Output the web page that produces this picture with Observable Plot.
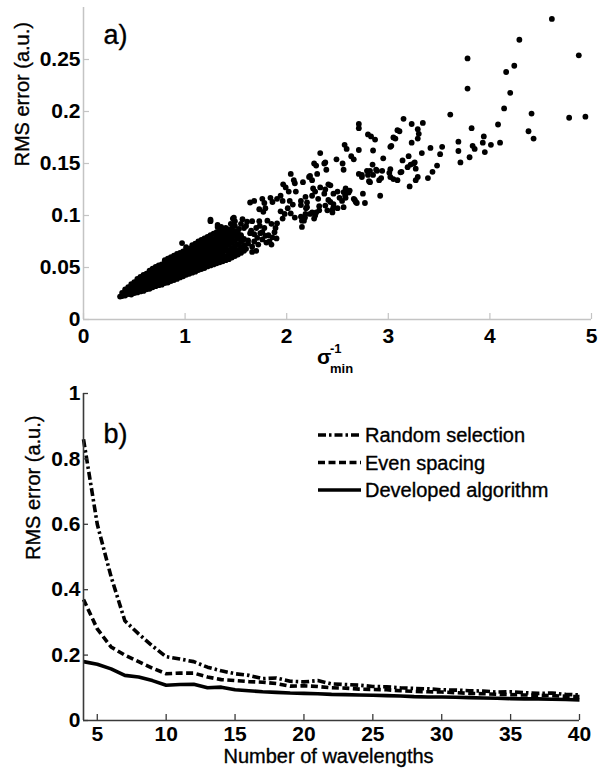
<!DOCTYPE html>
<html><head><meta charset="utf-8">
<script src="https://cdn.jsdelivr.net/npm/d3@7"></script>
<script src="https://cdn.jsdelivr.net/npm/@observablehq/plot@0.6"></script>
<style>
body{margin:0;background:#fff;}
#chart svg{display:block;}
</style></head><body><div id="chart"></div>
<script>
// ---------- Panel a data (sigma_min^-1 vs RMS error) ----------
const denseColumns = [
  [0.36,[0.022]],
  [0.38,[0.0225,0.0255]],
  [0.41,[0.023,0.026,0.029]],
  [0.44,[0.0245,0.0275,0.031]],
  [0.47,[0.024,0.028,0.031,0.034]],
  [0.50,[0.0255,0.029,0.0325,0.036]],
  [0.53,[0.026,0.03,0.033,0.037,0.039]],
  [0.56,[0.027,0.031,0.0345,0.038,0.041]],
  [0.59,[0.0275,0.0315,0.035,0.039,0.043]],
  [0.62,[0.029,0.0325,0.036,0.04,0.044]],
  [0.65,[0.0295,0.033,0.037,0.041,0.045,0.047]],
  [0.68,[0.031,0.0345,0.038,0.042,0.046,0.049]],
  [0.71,[0.032,0.035,0.039,0.043,0.047,0.0505]],
  [0.74,[0.033,0.0365,0.0405,0.0445,0.048,0.052]],
  [0.77,[0.0335,0.037,0.041,0.045,0.049,0.053]],
  [0.80,[0.035,0.0385,0.0425,0.0465,0.0505,0.0545,0.057]],
  [0.83,[0.0355,0.039,0.043,0.047,0.051,0.055,0.0585]],
  [0.86,[0.037,0.0405,0.0445,0.0485,0.0525,0.0565,0.06]],
  [0.89,[0.038,0.0415,0.0455,0.0495,0.0535,0.0575,0.0615]],
  [0.92,[0.039,0.043,0.047,0.051,0.055,0.059,0.063]],
  [0.95,[0.0405,0.044,0.048,0.052,0.056,0.06,0.064]],
  [0.98,[0.0415,0.0455,0.0495,0.0535,0.0575,0.0615,0.0655]],
  [1.01,[0.043,0.047,0.051,0.055,0.059,0.063,0.067,0.0695]],
  [1.04,[0.044,0.048,0.052,0.056,0.06,0.064,0.068]],
  [1.07,[0.045,0.049,0.053,0.057,0.061,0.065,0.069,0.0715]],
  [1.10,[0.046,0.05,0.054,0.058,0.062,0.066,0.07,0.073]],
  [1.13,[0.0475,0.0515,0.0555,0.0595,0.0635,0.0675,0.0715,0.075]],
  [1.16,[0.0485,0.0525,0.0565,0.0605,0.0645,0.0685,0.0725,0.0765]],
  [1.19,[0.0495,0.0535,0.0575,0.0615,0.0655,0.0695,0.0735,0.078]],
  [1.22,[0.051,0.055,0.059,0.063,0.067,0.071,0.075,0.0795]],
  [1.25,[0.052,0.056,0.06,0.064,0.068,0.072,0.076,0.081]],
  [1.28,[0.053,0.057,0.061,0.065,0.069,0.073,0.0775,0.0825]],
  [1.31,[0.054,0.058,0.062,0.066,0.07,0.074,0.079,0.084]],
  [1.34,[0.055,0.059,0.063,0.0675,0.072,0.076,0.0805,0.085]],
  [1.37,[0.056,0.06,0.0645,0.069,0.0735,0.078,0.0825]],
  [1.40,[0.057,0.061,0.066,0.0705,0.075,0.0795,0.084,0.088]],
  [1.43,[0.058,0.0625,0.067,0.072,0.0765,0.081,0.086]],
  [1.46,[0.0595,0.064,0.0685,0.0735,0.078,0.083,0.0875]],
  [1.49,[0.061,0.0655,0.0705,0.0755,0.0805,0.085,0.09]],
  [1.52,[0.0625,0.067,0.0725,0.078,0.083]],
  [1.55,[0.064,0.069,0.0745,0.081]],
  [1.58,[0.066,0.0715,0.0775]]
];
const midPoints = [
  [1.52,0.072],[1.55,0.080],[1.58,0.088],[1.60,0.068],[1.62,0.076],[1.64,0.083],[1.66,0.070],[1.68,0.075],
  [1.70,0.088],[1.72,0.072],[1.74,0.083],[1.76,0.077],[1.78,0.088],[1.80,0.074],[1.82,0.081],[1.86,0.079],
  [1.88,0.084],[1.90,0.078],[1.55,0.092],[1.60,0.090],[1.66,0.065],[1.70,0.066],
  [0.97,0.0735],[1.25,0.0945],[1.32,0.089],[1.38,0.0855],[1.48,0.098],
  [2.33,0.160],[2.49,0.154],[2.38,0.151],[2.39,0.144],[2.29,0.148],[2.30,0.140],[2.04,0.140],[2.23,0.138],
  [2.07,0.134],[2.08,0.131],[2.16,0.132],[1.965,0.130],[1.99,0.127],[2.41,0.130],[2.02,0.123],[2.09,0.123],
  [2.26,0.126],[2.28,0.123],[2.38,0.125],[2.50,0.123],[2.59,0.123],[2.52,0.117],[2.58,0.117],[1.905,0.116],
  [1.94,0.119],[1.96,0.114],[1.84,0.117],[1.86,0.113],[1.76,0.116],[1.78,0.112],[1.68,0.114],[1.64,0.1125],
  [2.03,0.114],[2.06,0.1105],[2.01,0.107],[2.14,0.110],[2.19,0.107],[2.20,0.1125],[2.25,0.119],[2.31,0.116],
  [2.32,0.109],[2.41,0.115],[2.46,0.111],[2.50,0.107],[2.45,0.1055],[1.73,0.106],[1.79,0.107],[1.77,0.1035],
  [1.94,0.104],[1.98,0.1015],[1.96,0.097],[2.04,0.102],[2.08,0.098],[2.14,0.099],[2.17,0.095],[2.18,0.098],
  [2.23,0.1015],[2.29,0.103],[1.25,0.096],[1.47,0.097],[1.49,0.0945],[1.565,0.0965],[1.61,0.094],[1.66,0.0945],
  [1.73,0.0945],[1.735,0.090],[1.81,0.095],[1.85,0.092],[1.89,0.088],[1.905,0.0925],[1.32,0.091],[1.355,0.089],
  [1.41,0.087],[1.35,0.083],[1.45,0.092],[1.53,0.087],[1.65,0.0855],[1.68,0.082],[1.71,0.0785],[1.76,0.084],
  [1.79,0.0805],[1.83,0.075],[1.85,0.072],[1.57,0.0765],[1.62,0.073],[1.58,0.0695],
  [2.14,0.114],[2.15,0.089],[2.27,0.150],[2.37,0.150],[2.22,0.137],[2.25,0.134],[2.43,0.129],[2.33,0.127],
  [2.185,0.118],[2.37,0.121],[2.46,0.121],[2.56,0.1225],[2.545,0.114],[2.20,0.108],[2.25,0.103],[2.28,0.100],
  [2.32,0.105],[2.27,0.097],[2.185,0.1015],[2.15,0.095],[2.38,0.1095],[2.43,0.113],[2.46,0.108],[2.45,0.103],[2.40,0.105]
];
const sparsePoints = [
  [4.61,0.289],[4.29,0.269],[3.78,0.251],[4.875,0.254],[4.24,0.244],[4.16,0.238],[3.78,0.222],[4.20,0.218],
  [4.14,0.203],[4.41,0.198],[4.78,0.194],[4.94,0.195],[4.08,0.1875],[3.82,0.184],[4.38,0.181],[4.43,0.174],
  [3.94,0.176],[3.93,0.170],[4.01,0.168],[4.10,0.170],[3.83,0.167],[3.85,0.164],[3.95,0.161],[3.80,0.156],
  [3.69,0.171],[3.69,0.162],[3.71,0.151],[3.61,0.197],
  [3.15,0.193],[3.23,0.188],[3.34,0.189],[3.11,0.181],[3.29,0.183],[3.30,0.1785],[3.29,0.174],[3.07,0.174],
  [3.23,0.170],[3.03,0.167],[3.415,0.165],[3.33,0.160],[3.53,0.166],[3.51,0.159],[3.14,0.153],[3.20,0.157],
  [3.22,0.149],[3.26,0.151],[3.48,0.148],[3.435,0.142],[3.39,0.136],[3.29,0.137],[3.27,0.134],[3.21,0.128],
  [3.13,0.142],[3.02,0.1445],[3.01,0.141],[3.02,0.137],[3.05,0.135],[3.09,0.134],[2.94,0.143],[2.93,0.136],
  [2.95,0.155],[2.85,0.1625],[2.845,0.149],[2.82,0.143],[2.85,0.139],[2.80,0.139],[2.81,0.133],[2.88,0.144],
  [2.74,0.139],[2.71,0.163],[2.80,0.178],[2.83,0.176],[2.87,0.173],[2.71,0.188],[2.71,0.184],[2.57,0.168],
  [2.59,0.164],[2.635,0.157],[2.66,0.154],[2.55,0.150],[2.56,0.144],[2.595,0.124],[2.62,0.124],[2.575,0.119],
  [2.67,0.115],[2.69,0.112],[2.75,0.121],[2.77,0.112],[2.92,0.119],[2.56,0.108],[3.12,0.1415],[3.19,0.1465],
  [3.27,0.145],[3.25,0.150],[3.09,0.182],[3.05,0.175],[3.02,0.166],[2.71,0.140],[2.74,0.137],[2.79,0.143],
  [2.89,0.143],[2.91,0.134],[2.82,0.132],[2.58,0.126],[2.61,0.122],[2.66,0.116],[2.68,0.113]
];
const aXTicks = [0, 1, 2, 3, 4, 5];
const aXTickLabels = ["0", "1", "2", "3", "4", "5"];
const aYTicks = [0, 0.05, 0.1, 0.15, 0.2, 0.25];
const aYTickLabels = ["0", "0.05", "0.1", "0.15", "0.2", "0.25"];

// ---------- Panel b data (RMS error vs number of wavelengths) ----------
const wavelengths = [4,5,6,7,8,9,10,11,12,13,14,15,16,17,18,19,20,21,22,23,24,25,26,27,28,29,30,31,32,33,34,35,36,37,38,39,40];
const randomSelection = [0.86,0.60,0.44,0.305,0.265,0.228,0.195,0.188,0.180,0.163,0.152,0.143,0.138,0.128,0.130,0.120,0.118,0.122,0.112,0.110,0.108,0.104,0.103,0.100,0.098,0.097,0.094,0.093,0.091,0.090,0.087,0.088,0.085,0.083,0.084,0.080,0.078];
const evenSpacing = [0.37,0.28,0.225,0.20,0.18,0.16,0.143,0.145,0.145,0.133,0.125,0.122,0.119,0.117,0.113,0.105,0.106,0.104,0.100,0.099,0.096,0.095,0.094,0.091,0.089,0.088,0.087,0.085,0.083,0.082,0.080,0.079,0.078,0.077,0.076,0.074,0.073];
const developedAlgorithm = [0.180,0.172,0.158,0.138,0.133,0.122,0.108,0.110,0.111,0.100,0.102,0.094,0.091,0.088,0.086,0.084,0.083,0.082,0.080,0.079,0.078,0.077,0.076,0.075,0.073,0.072,0.072,0.071,0.070,0.069,0.068,0.067,0.066,0.066,0.065,0.064,0.063];
const bXTicks = [5, 10, 15, 20, 25, 30, 35, 40];
const bXTickLabels = ["5", "10", "15", "20", "25", "30", "35", "40"];
const bYTicks = [0, 0.2, 0.4, 0.6, 0.8, 1];
const bYTickLabels = ["0", "0.2", "0.4", "0.6", "0.8", "1"];
const seriesNames = ["Random selection", "Even spacing", "Developed algorithm"];
const seriesDash = ["8,3,2.5,3", "7,3.5", null];

// ---------- Build tables ----------
const scatter = [
  ...denseColumns.flatMap(([x, ys]) => ys.map(y => ({x, y}))),
  ...midPoints.map(([x, y]) => ({x, y})),
  ...sparsePoints.map(([x, y]) => ({x, y}))
];
const lineTable = wavelengths.map((n, i) => ({n, random: randomSelection[i], even: evenSpacing[i], developed: developedAlgorithm[i]}));

const FONT = "'Liberation Sans', Arial, Helvetica, sans-serif";
const W = 599;
const TICKFS = 21;
const heavy = {fill: "#000", stroke: "#000", strokeWidth: 0.35};

// ---------- Panel a ----------
const aH = 378, aMT = 7, aMR = 8, aMB = 59, aML = 83;
const aIH = aH - aMT - aMB, aIW = W - aML - aMR;
const grey = "#c4c4c4";
const plotA = Plot.plot({
  width: W, height: aH, marginTop: aMT, marginRight: aMR, marginBottom: aMB, marginLeft: aML,
  style: {fontFamily: FONT, fontSize: "20px", color: "#000", background: "#fff", overflow: "visible"},
  x: {domain: [0, 5]},
  y: {domain: [0, 0.3]},
  marks: [
    Plot.ruleY([0], {stroke: grey, strokeWidth: 1.5}),
    Plot.ruleX([0], {stroke: grey, strokeWidth: 1.5}),
    Plot.tickX(aXTicks, {x: d => d, stroke: grey, strokeWidth: 1.2, insetTop: aIH - 6}),
    Plot.tickY(aYTicks, {y: d => d, stroke: grey, strokeWidth: 1.2, insetRight: aIW - 6}),
    Plot.dot(scatter, {x: "x", y: "y", r: 2.9, fill: "#000", stroke: "none"}),
    Plot.axisX({ticks: aXTicks, tickSize: 0, tickPadding: 9, tickFormat: d => aXTickLabels[aXTicks.indexOf(d)], fontWeight: "bold", fontSize: TICKFS, label: null}),
    Plot.axisY({ticks: aYTicks, tickSize: 0, tickPadding: 3, tickFormat: d => aYTickLabels[aYTicks.indexOf(d)], fontWeight: "bold", fontSize: TICKFS, label: null}),
    Plot.text(["RMS error (a.u.)"], {frameAnchor: "left", rotate: -90, dx: -61, dy: 3, fontSize: 20, ...heavy}),
    Plot.text(["a)"], {frameAnchor: "top-left", dx: 20, dy: 17, textAnchor: "start", fontSize: 27, ...heavy})
  ]
});
// sigma_min^-1 axis label
const sA = d3.select(plotA);
const sig = sA.append("g").attr("font-family", FONT).attr("font-weight", "bold").attr("fill", "#000").attr("text-anchor", "start");
sig.append("text").attr("x", 317).attr("y", 364).attr("font-size", 21).text("σ");
sig.append("text").attr("x", 330).attr("y", 353).attr("font-size", 13).text("-1");
sig.append("text").attr("x", 330).attr("y", 373).attr("font-size", 13).text("min");

// ---------- Panel b ----------
const bH = 396, bMT = 15, bMR = 20, bMB = 54, bML = 83;
const bIH = bH - bMT - bMB, bIW = W - bML - bMR;
const dark = "#3a3a3a";
const lineOpts = {stroke: "#000", strokeWidth: 3.6, strokeLinecap: "butt", strokeLinejoin: "round"};
const plotB = Plot.plot({
  width: W, height: bH, marginTop: bMT, marginRight: bMR, marginBottom: bMB, marginLeft: bML,
  style: {fontFamily: FONT, fontSize: "20px", color: "#000", background: "#fff", overflow: "visible"},
  x: {domain: [4, 40]},
  y: {domain: [0, 1]},
  marks: [
    Plot.line(lineTable, {x: "n", y: "random", ...lineOpts, strokeDasharray: seriesDash[0]}),
    Plot.line(lineTable, {x: "n", y: "even", ...lineOpts, strokeDasharray: seriesDash[1]}),
    Plot.line(lineTable, {x: "n", y: "developed", ...lineOpts}),
    Plot.ruleY([0], {stroke: dark, strokeWidth: 1.6}),
    Plot.ruleX([4], {stroke: dark, strokeWidth: 1.6}),
    Plot.tickX(bXTicks, {x: d => d, stroke: dark, strokeWidth: 1.3, insetTop: bIH - 6}),
    Plot.tickY(bYTicks, {y: d => d, stroke: dark, strokeWidth: 1.3, insetRight: bIW - 5}),
    Plot.axisX({ticks: bXTicks, tickSize: 0, tickPadding: 6, tickFormat: d => bXTickLabels[bXTicks.indexOf(d)], fontWeight: "bold", fontSize: TICKFS, label: null}),
    Plot.axisY({ticks: bYTicks, tickSize: 0, tickPadding: 3, tickFormat: d => bYTickLabels[bYTicks.indexOf(d)], fontWeight: "bold", fontSize: TICKFS, label: null}),
    Plot.text(["RMS error (a.u.)"], {frameAnchor: "left", rotate: -90, dx: -50, dy: 3, fontSize: 20, ...heavy}),
    Plot.text(["Number of wavelengths"], {frameAnchor: "bottom", dy: 42, dx: -3, fontSize: 20, ...heavy}),
    Plot.text(["b)"], {frameAnchor: "top-left", dx: 20, dy: 30, textAnchor: "start", fontSize: 27, ...heavy})
  ]
});
// legend
const sB = d3.select(plotB);
const leg = sB.append("g").attr("font-family", FONT).attr("font-size", 20).attr("fill", "#000").attr("text-anchor", "start");
seriesNames.forEach((name, i) => {
  const y = 57 + i * 27.5;
  const ln = leg.append("line").attr("x1", 318).attr("x2", 361).attr("y1", y).attr("y2", y)
    .attr("stroke", "#000").attr("stroke-width", 3.6).attr("stroke-linecap", "butt");
  if (seriesDash[i]) ln.attr("stroke-dasharray", seriesDash[i]);
  leg.append("text").attr("x", 365).attr("y", y).attr("dy", "0.36em")
    .attr("stroke", "#000").attr("stroke-width", 0.35).text(name);
});

document.getElementById("chart").append(plotA, plotB);
</script>
</body></html>
